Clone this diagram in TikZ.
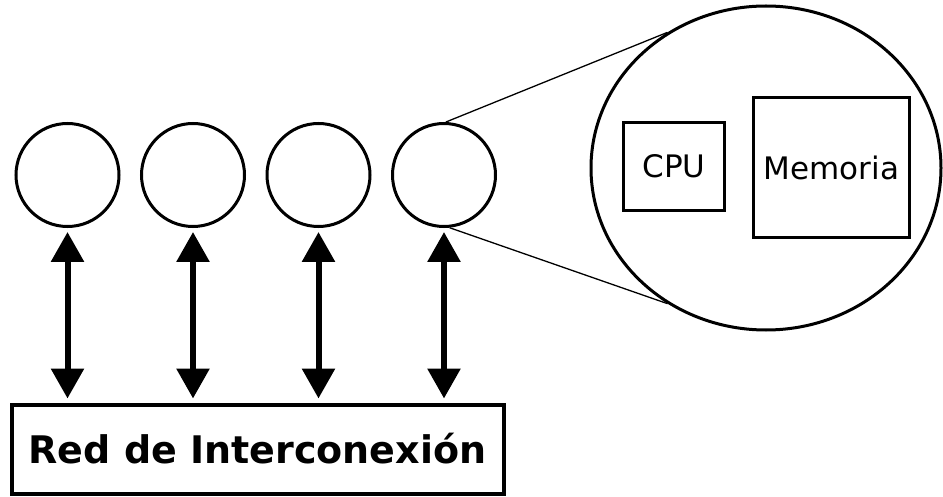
\documentclass[tikz,border=0pt]{standalone}
\usepackage{fontspec}
\newfontfamily\dvsans{DejaVu Sans}
\usetikzlibrary{shapes.geometric,arrows.meta}
\tikzset{
  proc/.style={circle,draw,line width=3pt,minimum size=103pt,inner sep=0pt},
  bigview/.style={ellipse,draw,line width=3pt,minimum width=350pt,minimum height=324pt,inner sep=0pt},
  unitbox/.style={rectangle,draw,line width=3.5pt,inner sep=0pt,font={\dvsans\fontsize{31}{36}\selectfont}},
  netbox/.style={rectangle,draw,line width=4pt,inner sep=0pt,minimum width=492pt,minimum height=89pt,font={\dvsans\bfseries\fontsize{38}{44}\selectfont}},
  link/.style={line width=6pt,{Triangle[length=30pt,width=32pt]}-{Triangle[length=30pt,width=32pt]},shorten <=4pt,shorten >=4pt},
  zoomline/.style={line width=1.3pt}
}
\begin{document}
\begin{tikzpicture}[x=1pt,y=-1pt]
\useasboundingbox (0,0) rectangle (943,497);
\node[proc] (p1) at (67.5,175) {};
\node[proc] (p2) at (193,175) {};
\node[proc] (p3) at (318.5,175) {};
\node[proc] (p4) at (444,175) {};
\node[netbox] (net) at (257.5,449) {Red de Interconexión};
\node[bigview] (big) at (766,168) {};
\node[unitbox,minimum width=101pt,minimum height=88pt] (cpu) at (674,166.5) {CPU};
\node[unitbox,minimum width=156pt,minimum height=140pt] (mem) at (831.5,167.5) {Memoria};
\foreach \i in {1,2,3,4}{
  \draw[link] (p\i.south) -- (net.north -| p\i.south);
}
\draw[zoomline] (p4.88) -- (big.126);
\draw[zoomline] (p4.-84) -- (big.234);
\end{tikzpicture}
\end{document}
